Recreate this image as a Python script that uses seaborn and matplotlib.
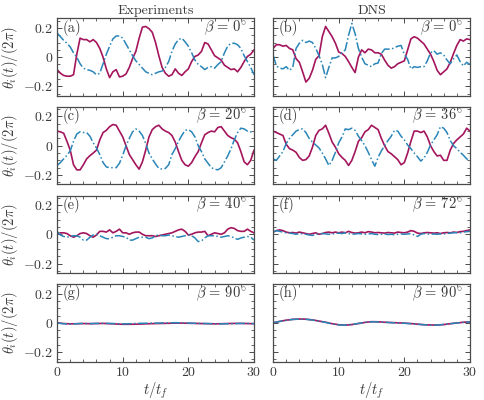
import numpy as np
import pandas as pd
import matplotlib
matplotlib.use("Agg")
import matplotlib.pyplot as plt
from matplotlib.ticker import MultipleLocator
import seaborn as sns

# time samples (t / t_f)
t_half = np.arange(0, 30.01, 0.5)
t_one = np.arange(0, 30.01, 1.0)

# (a) experiments, beta = 0
exp0_red = [-0.085, -0.11, -0.125, -0.13, -0.13, -0.12, 0.02, 0.13, 0.12, 0.12, 0.105, 0.12, 0.10, 0.06, 0.0,
            -0.08, -0.14, -0.10, -0.085, -0.135, -0.13, -0.115, -0.07, -0.01, 0.04, 0.13, 0.205, 0.21, 0.195, 0.17,
            0.10, 0.01, -0.07, -0.11, -0.13, -0.12, -0.08, -0.11, -0.125, -0.10, -0.08, -0.03, 0.005, 0.015, 0.04,
            0.10, 0.09, 0.05, 0.01, -0.005, -0.02, -0.055, -0.07, -0.085, -0.08, -0.10, -0.07, -0.03, 0.005, 0.02, 0.05]
exp0_blue = [0.165, 0.14, 0.115, 0.095, 0.07, 0.03, 0.0, -0.045, -0.075, -0.085, -0.09, -0.10, -0.12, -0.11, -0.045,
             0.02, 0.075, 0.125, 0.145, 0.145, 0.13, 0.09, 0.05, 0.01, -0.025, -0.05, -0.075, -0.10, -0.11, -0.12,
             -0.11, -0.10, -0.095, -0.07, -0.03, 0.04, 0.09, 0.12, 0.13, 0.105, 0.075, 0.03, -0.02, -0.05, -0.065,
             -0.085, -0.07, -0.065, -0.075, -0.05, -0.03, 0.03, 0.075, 0.095, 0.095, 0.085, 0.06, 0.01, -0.03, -0.07, -0.12]

# (b) DNS, beta = 0
dns0_red = [0.06, 0.085, 0.085, 0.075, 0.08, 0.06, 0.05, -0.01, -0.035, -0.10, -0.17, -0.145, -0.09, -0.015, 0.01,
            0.14, 0.21, 0.175, 0.14, 0.095, 0.035, 0.025, 0.005, -0.03, -0.07, -0.105, 0.0, 0.05, 0.03, 0.055,
            0.05, 0.03, 0.03, 0.02, -0.02, -0.055, -0.075, -0.065, -0.045, -0.035, -0.025, 0.05, 0.125, 0.14, 0.13,
            0.11, 0.09, 0.055, 0.02, -0.03, -0.09, -0.12, -0.10, -0.08, -0.035, 0.025, 0.08, 0.12, 0.11, 0.125, 0.12]
dns0_blue = [0.015, -0.06, -0.075, -0.08, -0.065, -0.09, -0.07, 0.06, 0.095, 0.115, 0.10, 0.11, 0.10, 0.06, 0.01,
             -0.05, -0.14, -0.07, -0.005, -0.005, 0.005, 0.03, 0.05, 0.15, 0.23, 0.16, 0.06, 0.0, -0.045, -0.055,
             -0.065, -0.045, -0.04, 0.025, 0.055, 0.055, 0.055, 0.065, 0.075, 0.08, 0.02, -0.015, -0.08, -0.065, -0.07,
             -0.065, -0.065, -0.025, 0.03, 0.045, 0.02, 0.03, 0.015, -0.02, -0.045, -0.01, 0.015, -0.03, -0.06, -0.035, -0.05]

# (c) experiments, beta = 20
exp20_red = [0.10, 0.095, 0.085, 0.03, -0.03, -0.13, -0.165, -0.165, -0.13, -0.09, -0.068, -0.05, -0.03, 0.04, 0.09,
             0.105, 0.13, 0.145, 0.14, 0.10, 0.06, 0.0, -0.06, -0.095, -0.13, -0.16, -0.11, -0.03, 0.06, 0.11,
             0.13, 0.14, 0.115, 0.10, 0.09, 0.07, 0.025, -0.04, -0.10, -0.13, -0.14, -0.115, -0.075, -0.04, 0.02,
             0.075, 0.09, 0.10, 0.095, 0.125, 0.13, 0.10, 0.07, 0.055, 0.045, 0.02, -0.04, -0.11, -0.13, -0.10, -0.03]
exp20_blue = [-0.135, -0.115, -0.09, -0.065, -0.035, 0.03, 0.08, 0.095, 0.09, 0.09, 0.065, 0.02, -0.015, -0.06, -0.115,
              -0.145, -0.15, -0.15, -0.15, -0.12, -0.065, 0.0, 0.05, 0.095, 0.115, 0.10, 0.07, 0.015, -0.05, -0.09,
              -0.125, -0.155, -0.16, -0.155, -0.13, -0.06, -0.02, 0.03, 0.07, 0.105, 0.11, 0.095, 0.06, 0.0, -0.04,
              -0.09, -0.12, -0.15, -0.16, -0.165, -0.15, -0.11, -0.07, -0.02, 0.04, 0.09, 0.12, 0.115, 0.10, 0.095, 0.09]

# (d) DNS, beta = 36
dns36_red = [0.10, 0.09, 0.08, 0.07, 0.01, -0.02, -0.03, -0.045, -0.08, -0.10, -0.095, -0.07, -0.01, 0.07, 0.105,
             0.115, 0.14, 0.085, 0.025, -0.01, -0.055, -0.08, -0.10, -0.135, -0.10, -0.04, 0.03, 0.055, 0.095, 0.11,
             0.14, 0.125, 0.11, 0.05, 0.0, -0.04, -0.055, -0.075, -0.095, -0.13, -0.115, -0.05, 0.03, 0.10, 0.10,
             0.09, 0.10, 0.06, 0.0, -0.04, -0.07, -0.065, -0.10, -0.10, -0.03, 0.015, 0.04, 0.06, 0.08, 0.12, 0.10]
dns36_blue = [-0.09, -0.10, -0.07, -0.04, 0.015, 0.05, 0.075, 0.10, 0.11, 0.115, 0.09, 0.05, 0.025, 0.005, -0.015,
              -0.05, -0.09, -0.135, -0.10, -0.045, 0.02, 0.06, 0.115, 0.11, 0.12, 0.105, 0.065, 0.035, 0.0, -0.045,
              -0.095, -0.14, -0.08, -0.035, 0.0, 0.035, 0.065, 0.105, 0.10, 0.065, 0.04, 0.005, -0.02, -0.05, -0.075,
              -0.105, -0.085, -0.045, 0.005, 0.04, 0.075, 0.13, 0.12, 0.09, 0.035, 0.0, -0.02, -0.045, -0.065, -0.09, -0.10]

# (e) experiments, beta = 40
exp40_red = [0.0, 0.01, 0.01, 0.005, -0.01, -0.02, -0.01, 0.005, 0.01, 0.005, -0.01, -0.02, -0.005, 0.02, 0.02,
             0.015, 0.03, 0.01, 0.02, 0.035, 0.01, 0.01, 0.0, 0.01, 0.015, 0.015, 0.0, -0.01, -0.01, -0.01,
             -0.015, -0.01, -0.005, 0.0, 0.005, 0.01, 0.02, 0.03, 0.035, 0.02, -0.005, 0.0, 0.01, 0.015, 0.015,
             0.02, -0.01, 0.0, 0.01, 0.005, 0.0, 0.01, 0.035, 0.045, 0.04, 0.025, 0.02, 0.02, 0.035, 0.02, 0.01]
exp40_blue = [0.02, -0.005, -0.015, -0.02, -0.015, -0.01, -0.01, -0.02, -0.04, -0.04, -0.02, -0.005, 0.0, -0.01, -0.02,
              -0.03, -0.03, -0.02, -0.01, -0.01, -0.015, -0.02, -0.04, -0.04, -0.03, -0.02, -0.02, -0.02, -0.03, -0.025,
              -0.01, -0.005, -0.01, -0.01, -0.005, -0.01, -0.015, -0.02, -0.015, -0.01, -0.005, -0.01, -0.025, -0.05, -0.045,
              -0.025, -0.01, -0.01, -0.01, -0.015, -0.02, -0.015, -0.01, -0.015, -0.025, -0.035, -0.025, -0.02, -0.015, -0.02, -0.04]

# (f) DNS, beta = 72
dns72_red = [0.015, 0.025, 0.03, 0.025, 0.015, 0.01, 0.012, 0.008, 0.015, 0.01, 0.005, 0.0, 0.005, 0.01, 0.0,
             0.005, 0.012, 0.015, 0.01, 0.015, 0.01, 0.015, 0.01, 0.02, 0.012, 0.008, 0.01, 0.015, 0.01, 0.018,
             0.015, 0.01, 0.012, 0.01, 0.008, 0.012, 0.01, 0.008, 0.015, 0.012, 0.01, 0.015, 0.025, 0.02, 0.008,
             0.005, 0.01, 0.012, 0.01, 0.008, 0.01, 0.005, 0.01, 0.012, 0.01, 0.015, 0.012, 0.018, 0.02, 0.025, 0.03]
dns72_blue = [0.015, 0.025, 0.02, 0.015, 0.01, 0.008, 0.005, 0.0, 0.005, 0.003, 0.0, -0.005, -0.008, 0.0, 0.002,
              0.005, 0.003, 0.0, 0.002, 0.005, 0.008, 0.005, 0.01, 0.005, 0.0, 0.002, 0.005, 0.003, 0.0, 0.002,
              0.005, 0.0, -0.002, 0.0, 0.002, -0.002, 0.0, -0.003, 0.0, 0.002, 0.0, 0.002, 0.005, -0.005, -0.015,
              0.0, 0.005, 0.002, 0.0, 0.002, 0.0, 0.003, 0.002, 0.005, 0.008, 0.01, 0.012, 0.01, 0.015, 0.018, 0.02]

# (g) experiments, beta = 90
exp90_red = [0.0, -0.005, -0.007, -0.006, -0.005, -0.006, -0.005, -0.004, -0.006, -0.008, -0.01, -0.01, -0.009, -0.008, -0.006,
             -0.005, -0.004, -0.003, -0.002, -0.002, -0.003, -0.004, -0.005, -0.006, -0.007, -0.006, -0.005, -0.004, -0.004, -0.005, -0.006]
exp90_blue = [-0.002, -0.006, -0.008, -0.006, -0.004, -0.005, -0.004, -0.003, -0.004, -0.005, -0.007, -0.006, -0.004, -0.003, -0.002,
              -0.002, -0.001, 0.0, 0.001, 0.0, -0.002, -0.003, -0.004, -0.005, -0.006, -0.007, -0.006, -0.005, -0.004, -0.004, -0.005]

# (h) DNS, beta = 90
dns90_red = [0.0, 0.01, 0.018, 0.024, 0.026, 0.025, 0.02, 0.012, 0.004, -0.006, -0.013, -0.016, -0.012, -0.005, 0.003,
             0.008, 0.007, 0.004, 0.002, 0.0, -0.002, -0.005, -0.009, -0.013, -0.015, -0.015, -0.012, -0.006, -0.001, 0.004, 0.007]
dns90_blue = [0.001, 0.009, 0.017, 0.023, 0.025, 0.024, 0.019, 0.011, 0.003, -0.007, -0.014, -0.016, -0.011, -0.004, 0.003,
              0.007, 0.006, 0.004, 0.001, -0.001, -0.003, -0.006, -0.01, -0.013, -0.016, -0.015, -0.011, -0.006, -0.001, 0.003, 0.006]

panel_letters = ["(a)", "(b)", "(c)", "(d)", "(e)", "(f)", "(g)", "(h)"]
betas = ["0", "0", "20", "36", "40", "72", "90", "90"]
col_titles = ["Experiments", "DNS"]

panels = [
    (t_half, exp0_red, exp0_blue), (t_half, dns0_red, dns0_blue),
    (t_half, exp20_red, exp20_blue), (t_half, dns36_red, dns36_blue),
    (t_half, exp40_red, exp40_blue), (t_half, dns72_red, dns72_blue),
    (t_one, exp90_red, exp90_blue), (t_one, dns90_red, dns90_blue),
]

sns.set_theme(style="ticks")
plt.rcParams["font.family"] = ["cmr10", "DejaVu Serif"]
plt.rcParams["mathtext.fontset"] = "cm"
plt.rcParams["axes.unicode_minus"] = False
plt.rcParams["axes.formatter.use_mathtext"] = True

red = "#a3155c"
blue = "#2a86b8"
edge = "#4a4a4a"
txt = "#3a3a3a"

fig, axes = plt.subplots(4, 2, figsize=(4.84, 4.0), dpi=100, sharex=True, sharey=True)
fig.subplots_adjust(left=0.118, right=0.971, top=0.954, bottom=0.096, wspace=0.097, hspace=0.142)

for i, ax in enumerate(axes.flat):
    t, r, b = panels[i]
    df = pd.DataFrame({"t": t, "red": r, "blue": b})
    sns.lineplot(data=df, x="t", y="red", ax=ax, color=red, lw=1.2, errorbar=None, sort=False)
    sns.lineplot(data=df, x="t", y="blue", ax=ax, color=blue, lw=1.1, linestyle="-.", errorbar=None, sort=False)

    ax.set_xlim(0, 30)
    ax.set_ylim(-0.265, 0.265)
    ax.set_xticks([0, 10, 20, 30])
    ax.set_xticklabels(["$0$", "$10$", "$20$", "$30$"])
    ax.set_yticks([-0.2, 0, 0.2])
    ax.set_yticklabels(["$-0.2$", "$0$", "$0.2$"])
    ax.xaxis.set_minor_locator(MultipleLocator(2))
    ax.yaxis.set_minor_locator(MultipleLocator(0.05))
    ax.tick_params(which="both", direction="in", top=True, right=True, color=edge, labelcolor=txt,
                   labelsize=10, pad=3)
    ax.tick_params(which="major", length=3.5, width=0.7)
    ax.tick_params(which="minor", length=2, width=0.6)
    for s in ax.spines.values():
        s.set_color(edge)
        s.set_linewidth(0.9)

    ax.set_xlabel("")
    ax.set_ylabel("")
    ax.text(0.03, 0.88, panel_letters[i], transform=ax.transAxes, ha="left", va="center", fontsize=10.5, color=txt)
    ax.text(0.965, 0.88, r"$\beta\,=\,%s^{\circ}$" % betas[i], transform=ax.transAxes, ha="right", va="center",
            fontsize=10.5, color=txt)

    if i % 2 == 0:
        ax.set_ylabel(r"$\theta_i(t)/(2\pi)$", fontsize=10.5, labelpad=2, color=txt)
    if i >= 6:
        ax.set_xlabel(r"$t/t_f$", fontsize=10.5, labelpad=1, color=txt)

for j, title in enumerate(col_titles):
    axes[0, j].set_title(title, fontsize=10, pad=3, color=txt)

fig.savefig("out.png", dpi=100)
